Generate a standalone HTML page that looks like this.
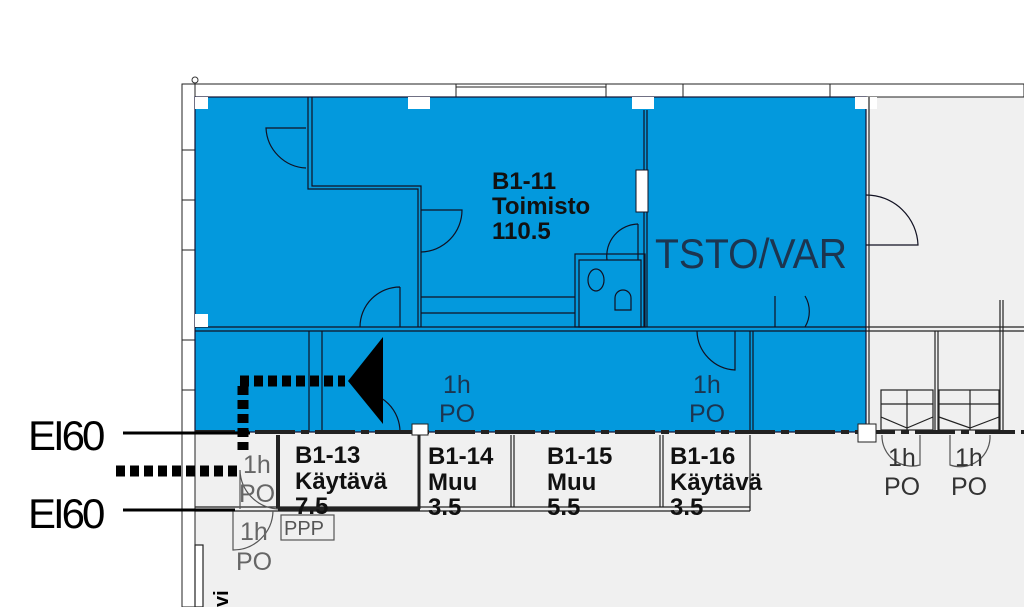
<!DOCTYPE html>
<html><head><style>
body{margin:0;background:#fff;width:1024px;height:607px;overflow:hidden}
svg{display:block}
text{font-family:"Liberation Sans",sans-serif}
.b{font-weight:bold;font-size:24px;fill:#111;letter-spacing:0px}
</style></head><body>
<svg width="1024" height="607" viewBox="0 0 1024 607">
<rect x="182" y="84" width="842" height="523" fill="#f0f0f0"/>
<rect x="182" y="84" width="842" height="13" fill="#fff" stroke="#222" stroke-width="1"/>
<rect x="182" y="84" width="13" height="523" fill="#fff" stroke="#222" stroke-width="1"/>
<line x1="456" y1="87" x2="606" y2="87" stroke="#222"/>
<line x1="456" y1="84" x2="456" y2="97" stroke="#222"/><line x1="606" y1="84" x2="606" y2="97" stroke="#222"/>
<line x1="683" y1="84" x2="683" y2="97" stroke="#222"/><line x1="830" y1="84" x2="830" y2="97" stroke="#222"/>
<line x1="182" y1="150" x2="195" y2="150" stroke="#222"/><line x1="182" y1="200" x2="195" y2="200" stroke="#222"/>
<line x1="182" y1="250" x2="195" y2="250" stroke="#222"/><line x1="182" y1="340" x2="195" y2="340" stroke="#222"/>
<line x1="182" y1="390" x2="195" y2="390" stroke="#222"/>
<circle cx="195" cy="80" r="3" fill="none" stroke="#333"/>
<rect x="195" y="97" width="671" height="335" fill="#0399dd" stroke="#113" stroke-width="1.2"/>
<g stroke="#112" stroke-width="1.2" fill="none">
<line x1="195" y1="327" x2="866" y2="327"/><line x1="195" y1="331" x2="866" y2="331"/>
<polyline points="308,97 308,189 418,189 418,327"/>
<polyline points="312,97 312,186 421,186 421,327"/>
<line x1="421" y1="297" x2="575" y2="297"/><line x1="421" y1="313" x2="575" y2="313"/>
<rect x="575" y="254" width="70" height="73"/><rect x="579" y="260" width="62" height="67"/>
<line x1="644" y1="110" x2="644" y2="327"/><line x1="647" y1="110" x2="647" y2="327"/>
<path d="M306,128 H266 A42,42 0 0 0 306,168"/>
<path d="M421,210 H462 A42,42 0 0 1 421,252"/>
<path d="M400,287 A40,40 0 0 0 360,327 M400,287 V327"/>
<path d="M638,224 A32,32 0 0 0 607,260 M638,224 V260"/>
<path d="M866,195 A52,52 0 0 1 918,245 H866"/>
<path d="M805,296 A30,30 0 0 1 805,327 M775,296 V327"/>
<path d="M735,331 V370 A40,40 0 0 1 697,331"/>
<line x1="322" y1="331" x2="322" y2="432"/><line x1="309" y1="331" x2="309" y2="432"/>
<line x1="750" y1="331" x2="750" y2="432"/><line x1="753" y1="331" x2="753" y2="432"/>
<path d="M360,392 A40,40 0 0 1 400,432"/>
<ellipse cx="596" cy="280" rx="8" ry="11"/><path d="M615,298 a8,8 0 0 1 16,0 v12 h-16z"/>
</g>
<rect x="636" y="170" width="12" height="42" fill="#fff" stroke="#112"/>
<rect x="195" y="97" width="13" height="12" fill="#fff"/><rect x="408" y="97" width="22" height="12" fill="#fff"/>
<rect x="632" y="97" width="22" height="12" fill="#fff"/><rect x="855" y="97" width="22" height="12" fill="#fff"/>
<rect x="195" y="314" width="13" height="13" fill="#fff"/>
<g stroke="#222" fill="none" stroke-width="1.2">
<line x1="195" y1="432" x2="1024" y2="432" stroke-width="4" stroke-dasharray="40,6,8,6"/>
<line x1="195" y1="507" x2="750" y2="507"/><line x1="195" y1="511" x2="750" y2="511"/>
<line x1="514" y1="435" x2="514" y2="507"/><line x1="511" y1="435" x2="511" y2="507"/>
<line x1="660" y1="435" x2="660" y2="507"/><line x1="663" y1="435" x2="663" y2="507"/>
<line x1="750" y1="435" x2="750" y2="511"/>
<line x1="869" y1="97" x2="869" y2="432"/><line x1="866" y1="327" x2="1024" y2="327"/><line x1="866" y1="331" x2="1024" y2="331"/>
<line x1="935" y1="331" x2="935" y2="432"/><line x1="938" y1="331" x2="938" y2="432"/>
<line x1="1000" y1="300" x2="1000" y2="432"/><line x1="1003" y1="300" x2="1003" y2="432"/>
<rect x="881" y="390" width="52" height="40"/><rect x="939" y="390" width="60" height="40"/>
<polyline points="881,417 907,428 933,417"/><polyline points="939,417 970,428 999,417"/>
<line x1="881" y1="404" x2="933" y2="404"/><line x1="939" y1="404" x2="999" y2="404"/>
<line x1="907" y1="390" x2="907" y2="430"/><line x1="970" y1="390" x2="970" y2="430"/>
<line x1="278" y1="435" x2="278" y2="509" stroke-width="4"/>
<line x1="278" y1="509" x2="420" y2="509" stroke-width="3"/>
<line x1="419" y1="432" x2="419" y2="509" stroke-width="3"/>
<path d="M240,470 A40,40 0 0 0 278,509 M240,470 V509" stroke="#555"/>
<path d="M233,511 V550 A40,40 0 0 0 273,511" stroke="#555"/>
<rect x="281" y="515" width="53" height="25" stroke="#555"/>
<path d="M882,435 A30,30 0 0 0 920,465 V435" stroke="#555"/>
<path d="M990,435 A30,30 0 0 1 950,465 V435" stroke="#555"/>
<rect x="195" y="545" width="8" height="62" fill="#fff"/>
</g>
<rect x="412" y="424" width="16" height="11" fill="#fff" stroke="#222"/>
<rect x="858" y="424" width="18" height="18" fill="#fff" stroke="#222"/>
<line x1="240" y1="381" x2="345" y2="381" stroke="#000" stroke-width="11" stroke-dasharray="9,5"/>
<line x1="243" y1="386" x2="243" y2="450" stroke="#000" stroke-width="11" stroke-dasharray="9,5"/>
<line x1="116" y1="471" x2="237" y2="471" stroke="#000" stroke-width="11" stroke-dasharray="9,5"/>
<polygon points="348,381 383,337 383,424" fill="#000"/>
<line x1="123" y1="433" x2="250" y2="433" stroke="#000" stroke-width="3"/>
<line x1="123" y1="510" x2="235" y2="510" stroke="#000" stroke-width="3"/>
<text x="28" y="450" style="font-size:42px;letter-spacing:-3px">EI60</text>
<text x="28" y="528" style="font-size:42px;letter-spacing:-3px">EI60</text>
<text class="b" x="492" y="189">B1-11</text><text class="b" x="492" y="214">Toimisto</text><text class="b" x="492" y="239">110.5</text>
<text x="655" y="268" style="font-size:42px;fill:#1c3550" textLength="192" lengthAdjust="spacingAndGlyphs">TSTO/VAR</text>
<text class="b" x="295" y="463">B1-13</text><text class="b" x="295" y="489">Käytävä</text><text class="b" x="295" y="514">7.5</text>
<text class="b" x="428" y="464">B1-14</text><text class="b" x="428" y="490">Muu</text><text class="b" x="428" y="515">3.5</text>
<text class="b" x="547" y="464">B1-15</text><text class="b" x="547" y="490">Muu</text><text class="b" x="547" y="515">5.5</text>
<text class="b" x="670" y="464">B1-16</text><text class="b" x="670" y="490">Käytävä</text><text class="b" x="670" y="515">3.5</text>
<g fill="#333" style="font-size:25px">
<text x="443" y="393" fill="#1c3550">1h</text><text x="439" y="422" fill="#1c3550">PO</text>
<text x="693" y="393" fill="#1c3550">1h</text><text x="689" y="422" fill="#1c3550">PO</text>
<text x="243" y="473" fill="#666">1h</text><text x="239" y="502" fill="#666">PO</text>
<text x="240" y="540" fill="#666">1h</text><text x="236" y="570" fill="#666">PO</text>
<text x="888" y="466">1h</text><text x="884" y="495">PO</text>
<text x="955" y="466">1h</text><text x="951" y="495">PO</text>
<text x="284" y="535" style="font-size:20px" fill="#555">PPP</text>
</g>
<text x="228" y="607" transform="rotate(-90 228 607)" style="font-size:20px;font-weight:bold">vi</text>
</svg>
</body></html>
